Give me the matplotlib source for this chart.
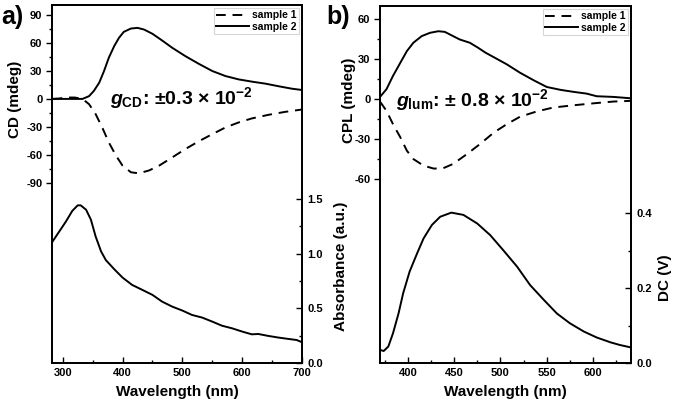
import numpy as np
import matplotlib.pyplot as plt
from matplotlib.ticker import FixedLocator, MultipleLocator

plt.rcParams['font.family'] = ['Liberation Sans', 'DejaVu Sans']
plt.rcParams['font.weight'] = 'bold'
plt.rcParams['mathtext.fontset'] = 'custom'
plt.rcParams['mathtext.rm'] = 'Liberation Sans:bold'
plt.rcParams['mathtext.bf'] = 'Liberation Sans:bold'
plt.rcParams['mathtext.it'] = 'Liberation Sans:italic:bold'

# panel a: CD spectra (mdeg)
cd_wl2 = [283, 300, 320, 333, 344, 352, 361, 369, 377, 386, 394, 402, 414, 425, 436, 450, 466, 483,
          505, 527, 550, 572, 594, 616, 639, 661, 683, 700]
cd_s2 = [0, 0, 0, 0, 3, 8.6, 17.5, 30, 44.3, 56.8, 65.7, 72.1, 75.7, 76.4, 74.6, 70, 62.9, 55,
         46, 37.9, 30, 24.6, 21, 18.6, 16.4, 13.6, 11, 9.6]
cd_wl1 = [283, 295, 305, 320, 333, 344, 355, 366, 377, 389, 400, 414, 427, 444, 461, 483, 505, 527,
          550, 572, 594, 616, 644, 672, 700]
cd_s1 = [0, 0.5, 1.5, 1.5, 0, -5.7, -16.4, -30.7, -46.8, -61, -71.8, -78.9, -80, -77, -71.8, -62.9,
         -53.9, -45.7, -37.9, -30.7, -25.3, -21, -17.1, -13.9, -11.4]

# panel a: absorbance (a.u.)
abs_wl = [283, 294, 305, 316, 325, 330, 339, 347, 355, 364, 372, 386, 400, 416, 433, 450, 466, 483,
          500, 516, 533, 550, 566, 583, 600, 616, 627, 644, 661, 677, 691, 700]
abs_val = [1.11, 1.20, 1.29, 1.39, 1.44, 1.44, 1.40, 1.31, 1.155, 1.02, 0.94, 0.857, 0.78, 0.713,
           0.668, 0.622, 0.561, 0.515, 0.479, 0.439, 0.415, 0.378, 0.341, 0.317, 0.287, 0.262,
           0.265, 0.247, 0.232, 0.22, 0.21, 0.19]

# panel b: CPL spectra (mdeg)
cpl_wl2 = [370, 377, 384, 392, 399, 406, 415, 424, 433, 440, 447, 456, 467, 476, 484, 494, 507, 521,
           536, 550, 565, 579, 593, 604, 622, 640]
cpl_s2 = [1.5, 7.3, 17.3, 27.3, 36, 42.3, 47.3, 49.8, 51, 50.5, 48, 44.8, 42.3, 38.5, 34.8, 31, 26,
          19.8, 14, 9, 6.8, 5.3, 4, 2, 1.5, 0.5]
cpl_wl1 = [370, 377, 384, 392, 399, 406, 417, 428, 438, 449, 464, 478, 493, 507, 521, 539, 557, 579,
           601, 622, 640]
cpl_s1 = [-2, -9, -19, -29, -39, -45.3, -50.3, -52.5, -52.3, -49, -41.5, -34, -25.3, -19, -13.5,
          -9.5, -6.5, -4.8, -3.3, -2, -1.5]

# panel b: DC (V)
dc_wl = [370, 374, 379, 384, 390, 395, 402, 410, 417, 426, 435, 447, 460, 475, 489, 503, 518, 532,
         547, 561, 575, 590, 604, 619, 629, 640]
dc_val = [0.035, 0.032, 0.044, 0.079, 0.132, 0.186, 0.244, 0.292, 0.332, 0.368, 0.39, 0.401, 0.395,
          0.372, 0.341, 0.301, 0.257, 0.208, 0.168, 0.132, 0.106, 0.084, 0.068, 0.055, 0.048, 0.042]

W, H = 674, 403
fig = plt.figure(figsize=(W / 100, H / 100), dpi=100)

dash = (0, (5, 3.5))
lw = 1.4


def setup(ax, ax2, xlim, xmaj, xmin, ylim, yticks, yminor, y2lim, y2ticks, y2minor):
    ax.set_xlim(*xlim)
    ax.set_ylim(*ylim)
    ax2.set_ylim(*y2lim)
    ax.xaxis.set_major_locator(MultipleLocator(xmaj))
    ax.xaxis.set_minor_locator(MultipleLocator(xmin))
    ax.yaxis.set_major_locator(FixedLocator(yticks))
    ax.yaxis.set_minor_locator(FixedLocator(yminor))
    ax2.yaxis.set_major_locator(FixedLocator(y2ticks))
    ax2.yaxis.set_minor_locator(FixedLocator(y2minor))
    ax.tick_params(axis='y', which='both', direction='out', labelsize=8, pad=3)
    ax.tick_params(axis='y', which='major', length=4, width=1)
    ax.tick_params(axis='y', which='minor', length=2.5, width=1)
    ax.tick_params(axis='x', which='both', direction='in', labelsize=8, top=False)
    ax.tick_params(axis='x', which='major', length=4, width=1)
    ax.tick_params(axis='x', which='minor', length=2.5, width=1)
    ax2.tick_params(axis='y', which='both', direction='in', labelsize=8, pad=4)
    ax2.tick_params(axis='y', which='major', length=4, width=1)
    ax2.tick_params(axis='y', which='minor', length=2.5, width=1)
    for a in (ax, ax2):
        for s in a.spines.values():
            s.set_linewidth(1.3)
    ax.set_xlabel('Wavelength (nm)', fontsize=11, fontweight='bold', labelpad=5)


def add_legend(ax):
    leg = ax.legend(loc='upper right', fontsize=7.5, handlelength=3.2, frameon=True, fancybox=False,
                    borderpad=0.2, labelspacing=0.15, handletextpad=0.3, borderaxespad=0.3)
    leg.get_frame().set_edgecolor('#cccccc')
    leg.get_frame().set_linewidth(0.8)


# ---- panel a ----
ax = fig.add_axes([52 / W, 40 / H, 250 / W, 358 / H])
ax2 = ax.twinx()
ax.plot(cd_wl1, cd_s1, color='black', lw=lw, linestyle=dash, label='sample 1')
ax.plot(cd_wl2, cd_s2, color='black', lw=lw, label='sample 2')
ax2.plot(abs_wl, abs_val, color='black', lw=lw)
setup(ax, ax2, (282, 700), 100, 50, (-284, 101), [-90, -60, -30, 0, 30, 60, 90],
      list(range(-90, 91, 15)), (0, 3.27), [0, 0.5, 1.0, 1.5], [0.25, 0.75, 1.25])
ax.set_yticklabels(['-90', '-60', '-30', '0', '30', '60', '90'])
ax2.set_yticklabels(['0.0', '0.5', '1.0', '1.5'])
ax.set_ylabel('CD (mdeg)', fontsize=11, fontweight='bold')
ax.yaxis.set_label_coords(-0.118, 0.735)
ax2.set_ylabel('Absorbance (a.u.)', fontsize=11, fontweight='bold')
ax2.yaxis.set_label_coords(1.128, 0.27)
add_legend(ax)
ax.text(0.232, 0.74, r'$g_{\mathrm{CD}}$: ±0.3 × 10$^{-2}$', transform=ax.transAxes,
        fontsize=14, fontweight='bold', va='center', ha='left')

# ---- panel b ----
bx = fig.add_axes([380 / W, 40 / H, 251 / W, 357 / H])
bx2 = bx.twinx()
bx.plot(cpl_wl1, cpl_s1, color='black', lw=lw, linestyle=dash, label='sample 1')
bx.plot(cpl_wl2, cpl_s2, color='black', lw=lw, label='sample 2')
bx2.plot(dc_wl, dc_val, color='black', lw=lw)
setup(bx, bx2, (370, 641), 50, 25, (-199, 70), [-60, -30, 0, 30, 60],
      list(range(-60, 61, 15)), (0, 0.952), [0, 0.2, 0.4], [0.1, 0.3])
bx.set_yticklabels(['-60', '-30', '0', '30', '60'])
bx2.set_yticklabels(['0.0', '0.2', '0.4'])
bx.set_ylabel('CPL (mdeg)', fontsize=11, fontweight='bold')
bx.yaxis.set_label_coords(-0.096, 0.737)
bx2.set_ylabel('DC (V)', fontsize=11, fontweight='bold')
bx2.yaxis.set_label_coords(1.108, 0.238)
add_legend(bx)
bx.text(0.062, 0.737, r'$g_{\mathrm{lum}}$: ± 0.8 × 10$^{-2}$', transform=bx.transAxes,
        fontsize=14, fontweight='bold', va='center', ha='left')

fig.text(1 / W, 1 - 17 / H, 'a)', fontsize=18, fontweight='bold', va='center', ha='left')
fig.text(326 / W, 1 - 17 / H, 'b)', fontsize=18, fontweight='bold', va='center', ha='left')

fig.savefig('out.png', dpi=100)
